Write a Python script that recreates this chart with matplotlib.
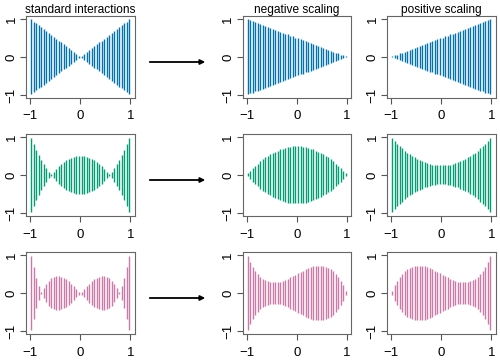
import matplotlib
matplotlib.use("Agg")
import matplotlib.pyplot as plt
from matplotlib.patches import FancyArrowPatch

plt.rcParams['font.family'] = ['Liberation Sans', 'DejaVu Sans']

# x position of each oscillation (one full swing each)
peak_x = [-0.975, -0.925, -0.875, -0.825, -0.775, -0.725, -0.675, -0.625, -0.575, -0.525,
          -0.475, -0.425, -0.375, -0.325, -0.275, -0.225, -0.175, -0.125, -0.075, -0.025,
          0.025, 0.075, 0.125, 0.175, 0.225, 0.275, 0.325, 0.375, 0.425, 0.475,
          0.525, 0.575, 0.625, 0.675, 0.725, 0.775, 0.825, 0.875, 0.925, 0.975]

# envelope amplitude read at each oscillation
row1_standard = [0.99, 0.93, 0.88, 0.83, 0.78, 0.73, 0.68, 0.63, 0.58, 0.53,
                 0.48, 0.43, 0.38, 0.33, 0.28, 0.23, 0.18, 0.13, 0.08, 0.03,
                 0.03, 0.08, 0.13, 0.18, 0.23, 0.28, 0.33, 0.38, 0.43, 0.48,
                 0.53, 0.58, 0.63, 0.68, 0.73, 0.78, 0.83, 0.88, 0.93, 0.99]
row1_negative = [0.99, 0.96, 0.94, 0.91, 0.89, 0.86, 0.84, 0.81, 0.79, 0.76,
                 0.74, 0.71, 0.69, 0.66, 0.64, 0.61, 0.59, 0.56, 0.54, 0.51,
                 0.49, 0.46, 0.44, 0.41, 0.39, 0.36, 0.34, 0.31, 0.29, 0.26,
                 0.24, 0.21, 0.19, 0.16, 0.14, 0.11, 0.09, 0.06, 0.04, 0.01]
row1_positive = [0.01, 0.04, 0.06, 0.09, 0.11, 0.14, 0.16, 0.19, 0.21, 0.24,
                 0.26, 0.29, 0.31, 0.34, 0.36, 0.39, 0.41, 0.44, 0.46, 0.49,
                 0.51, 0.54, 0.56, 0.59, 0.61, 0.64, 0.66, 0.69, 0.71, 0.74,
                 0.76, 0.79, 0.81, 0.84, 0.86, 0.89, 0.91, 0.94, 0.96, 0.99]

row2_standard = [0.98, 0.82, 0.66, 0.52, 0.40, 0.29, 0.18, 0.09, 0.02, 0.09,
                 0.16, 0.23, 0.29, 0.34, 0.39, 0.42, 0.45, 0.48, 0.49, 0.50,
                 0.50, 0.49, 0.48, 0.45, 0.42, 0.39, 0.34, 0.29, 0.23, 0.16,
                 0.09, 0.02, 0.09, 0.18, 0.29, 0.40, 0.52, 0.66, 0.82, 0.98]
row2_negative = [0.04, 0.11, 0.18, 0.24, 0.30, 0.36, 0.41, 0.46, 0.50, 0.54,
                 0.58, 0.61, 0.64, 0.67, 0.69, 0.71, 0.73, 0.74, 0.75, 0.75,
                 0.75, 0.75, 0.74, 0.73, 0.71, 0.69, 0.67, 0.64, 0.61, 0.58,
                 0.54, 0.50, 0.46, 0.41, 0.36, 0.30, 0.24, 0.18, 0.11, 0.04]
row2_positive = [0.98, 0.89, 0.82, 0.76, 0.70, 0.64, 0.59, 0.54, 0.50, 0.46,
                 0.42, 0.39, 0.36, 0.33, 0.31, 0.29, 0.27, 0.26, 0.25, 0.25,
                 0.25, 0.25, 0.26, 0.27, 0.29, 0.31, 0.33, 0.36, 0.39, 0.42,
                 0.46, 0.50, 0.54, 0.59, 0.64, 0.70, 0.76, 0.82, 0.89, 0.98]

row3_standard = [0.97, 0.68, 0.40, 0.18, 0.02, 0.14, 0.24, 0.33, 0.39, 0.43,
                 0.45, 0.45, 0.43, 0.40, 0.36, 0.31, 0.25, 0.18, 0.11, 0.04,
                 0.04, 0.11, 0.18, 0.25, 0.31, 0.36, 0.40, 0.43, 0.45, 0.45,
                 0.43, 0.39, 0.33, 0.24, 0.14, 0.02, 0.18, 0.40, 0.68, 0.97]
row3_negative = [0.97, 0.82, 0.68, 0.58, 0.50, 0.43, 0.38, 0.34, 0.31, 0.29,
                 0.28, 0.28, 0.28, 0.30, 0.32, 0.35, 0.38, 0.41, 0.44, 0.48,
                 0.52, 0.56, 0.59, 0.62, 0.65, 0.68, 0.70, 0.72, 0.72, 0.72,
                 0.71, 0.69, 0.66, 0.62, 0.57, 0.50, 0.42, 0.32, 0.20, 0.06]
row3_positive = [0.06, 0.20, 0.32, 0.42, 0.50, 0.57, 0.62, 0.66, 0.69, 0.71,
                 0.72, 0.72, 0.72, 0.70, 0.68, 0.65, 0.62, 0.59, 0.56, 0.52,
                 0.48, 0.44, 0.41, 0.38, 0.35, 0.32, 0.30, 0.28, 0.28, 0.28,
                 0.29, 0.31, 0.34, 0.38, 0.43, 0.50, 0.58, 0.68, 0.82, 0.97]

rows = [[row1_standard, row1_negative, row1_positive],
        [row2_standard, row2_negative, row2_positive],
        [row3_standard, row3_negative, row3_positive]]
row_colors = ['#0072B2', '#009E73', '#CC79A7']
titles = ['standard interactions', 'negative scaling', 'positive scaling']
ticks = [-1, 0, 1]
tick_text = ['\u22121', '0', '1']

fig = plt.figure(figsize=(5, 3.6), dpi=100)

col_left = [0.052, 0.485, 0.774]
row_bottom = [0.728, 0.400, 0.072]
w, h = 0.217, 0.228

for r in range(3):
    for c in range(3):
        ax = fig.add_axes([col_left[c], row_bottom[r], w, h])
        amp = rows[r][c]
        lows = [-a for a in amp]
        ax.vlines(peak_x, lows, amp, color=row_colors[r], lw=1.0)
        ax.set_xlim(-1.08, 1.08)
        ax.set_ylim(-1.08, 1.08)
        ax.set_xticks(ticks)
        ax.set_yticks(ticks)
        ax.set_xticklabels(tick_text)
        ax.set_yticklabels(tick_text, rotation=90, va='center')
        ax.tick_params(direction='out', length=4, width=0.8, color='#555555',
                       labelsize=9.5, labelcolor='black')
        ax.tick_params(axis='x', pad=5)
        ax.tick_params(axis='y', pad=2)
        for sp in ax.spines.values():
            sp.set_color('#666666')
            sp.set_linewidth(0.8)
        if r == 0:
            ax.set_title(titles[c], fontsize=8.6, pad=1.5)

# arrows between the standard panel and the scaled panels
arrow_y = [1 - 62 / 360, 1 - 180 / 360, 1 - 298 / 360]
for y in arrow_y:
    arr = FancyArrowPatch((0.294, y), (0.416, y), transform=fig.transFigure,
                          arrowstyle='-|>', mutation_scale=7, lw=1.3, color='black')
    fig.add_artist(arr)

fig.savefig('out.png', dpi=100)
